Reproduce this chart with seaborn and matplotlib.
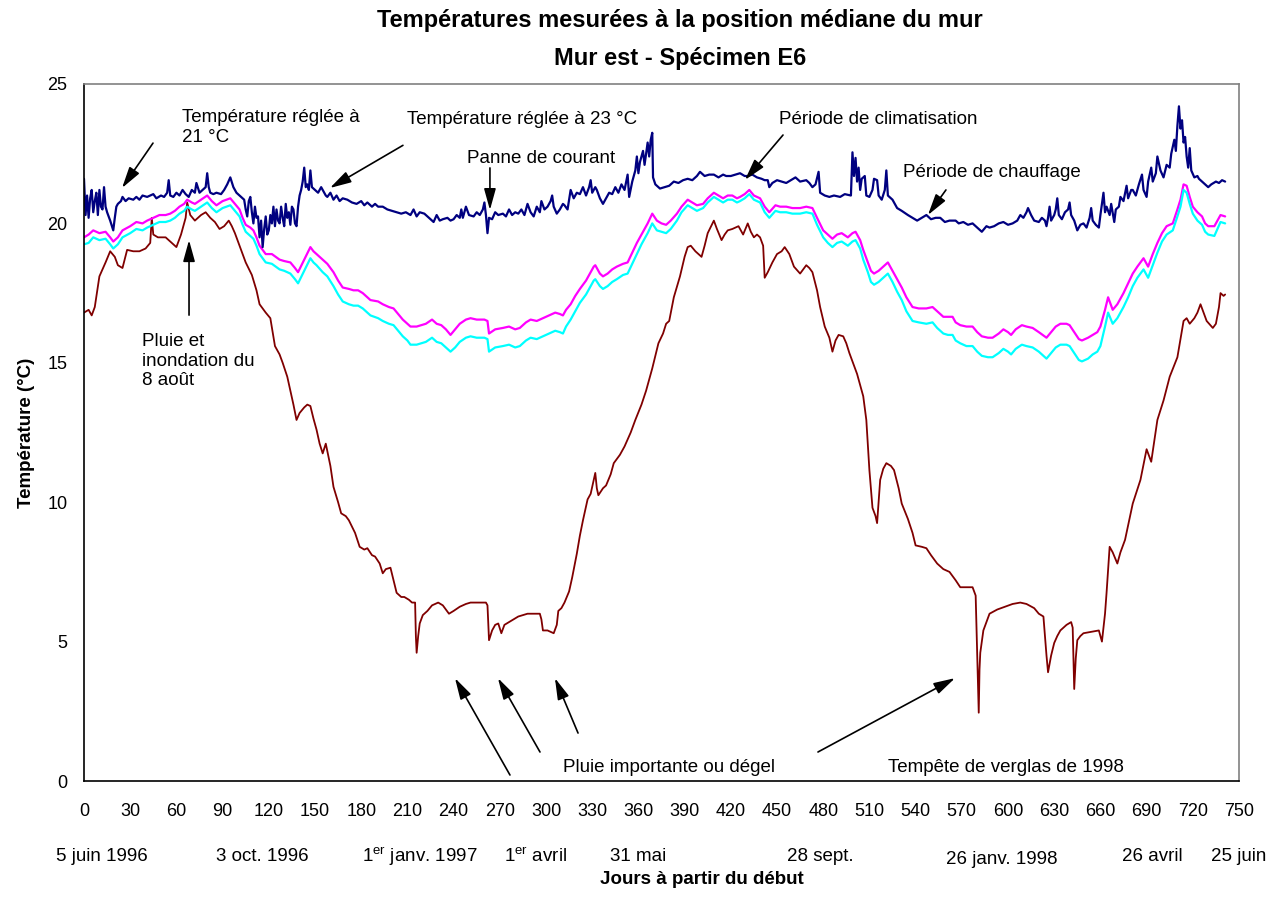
import matplotlib
matplotlib.use("Agg")
import matplotlib.pyplot as plt
import seaborn as sns

# ---------------------------------------------------------------------------
# data (jours, temperature en degC)
# interieur (bleu marine)
days_int = [0, 1, 2, 3, 4, 5, 6, 7, 8, 9, 10, 11, 12, 13, 14, 15, 17, 19, 20, 21,
            22, 24, 25, 27, 29, 32, 34, 36, 38, 41, 43, 45, 47, 50, 52, 54, 55, 56, 58, 60,
            62, 64, 66, 68, 70, 72, 73, 75, 77, 79, 80, 81, 82, 84, 86, 89, 91, 93, 95, 97,
            99, 101, 104, 105, 106, 107, 108, 109, 110, 111, 112, 113, 114, 115, 116, 117, 118, 119, 120, 121,
            122, 123, 124, 125, 126, 127, 128, 129, 130, 131, 132, 133, 134, 135, 136, 137, 138, 139, 140, 141,
            142, 143, 144, 145, 146, 147, 148, 150, 152, 154, 155, 157, 158, 160, 162, 164, 166, 168, 171, 174,
            177, 180, 182, 184, 187, 189, 191, 194, 197, 200, 203, 206, 209, 212, 214, 216, 218, 221, 224, 227,
            229, 231, 233, 236, 238, 240, 242, 244, 245, 246, 248, 250, 253, 255, 257, 259, 260, 261, 262, 263,
            265, 267, 269, 272, 274, 276, 278, 280, 282, 284, 286, 288, 290, 292, 294, 296, 297, 299, 301, 303,
            304, 305, 307, 309, 311, 312, 314, 316, 318, 320, 322, 324, 326, 328, 329, 330, 332, 333, 335, 337,
            339, 341, 343, 345, 347, 349, 351, 353, 354, 356, 358, 359, 360, 361, 363, 364, 366, 367, 368, 369,
            369.5, 371, 374, 377, 380, 383, 386, 389, 392, 395, 398, 400, 403, 406, 409, 412, 415, 417, 420, 423,
            426, 429, 431, 434, 437, 440, 442, 444, 445, 447, 450, 453, 456, 459, 462, 465, 469, 471, 473, 475,
            477, 478, 481, 484, 487, 491, 494, 498, 499, 500, 501, 502, 503, 504, 505, 507, 508, 510, 512, 513,
            515, 516, 518, 520, 521, 522, 525, 528, 531, 535, 538, 541, 544, 547, 550, 553, 556, 559, 562, 566,
            568, 571, 574, 577, 580, 583, 586, 588, 591, 594, 597, 600, 603, 606, 608, 610, 612, 613, 615, 617,
            620, 622, 624, 625, 626, 627, 628, 630, 631, 632, 633, 635, 637, 639, 640, 641, 643, 645, 647, 649,
            651, 653, 654, 655, 657, 659, 660, 662, 663, 664, 666, 667, 669, 670, 672, 673, 675, 677, 678, 680,
            681, 683, 685, 687, 688, 690, 691, 693, 694, 696, 697, 699, 701, 703, 705, 706, 708, 709, 710, 711,
            712, 713, 714, 715, 716, 717, 718, 719, 721, 723, 724, 727, 730, 732, 735, 737, 739, 741]
temp_int = [21.6, 20.3, 21.0, 20.2, 20.9, 21.2, 20.4, 20.8, 21.1, 20.3, 21.2, 20.6, 20.5, 21.3, 20.6, 20.4, 20.1, 19.75, 20.2, 20.6,
            20.7, 20.8, 20.95, 20.8, 20.9, 20.85, 20.95, 20.85, 21.0, 20.95, 21.0, 21.05, 20.9, 21.0, 20.95, 21.1, 21.55, 21.0, 20.95, 21.1,
            21.0, 21.2, 21.05, 20.95, 21.2, 21.1, 21.45, 21.1, 21.2, 21.3, 21.8, 21.3, 21.1, 21.05, 21.1, 21.05, 21.2, 21.4, 21.65, 21.3,
            21.1, 21.0, 20.85, 20.5, 20.25, 20.8, 20.95, 20.4, 20.0, 20.6, 20.2, 20.25, 19.5, 20.1, 19.15, 19.8, 20.25, 19.6, 19.75, 20.3,
            20.0, 20.6, 19.9, 20.5, 20.1, 20.0, 20.6, 20.2, 19.9, 20.7, 20.2, 20.4, 19.95, 20.6, 20.5, 20.0, 19.9, 20.6, 21.0, 21.2,
            21.5, 22.0, 21.3, 21.4, 21.2, 21.9, 21.3, 21.2, 21.1, 21.3, 21.2, 21.0, 20.95, 21.1, 20.85, 21.0, 20.8, 20.9, 20.85, 20.75,
            20.7, 20.8, 20.65, 20.75, 20.6, 20.7, 20.6, 20.6, 20.5, 20.45, 20.4, 20.35, 20.4, 20.3, 20.5, 20.25, 20.4, 20.35, 20.2, 20.05,
            20.3, 20.1, 20.15, 20.2, 20.1, 20.15, 20.3, 20.2, 20.5, 20.2, 20.6, 20.3, 20.25, 20.4, 20.3, 20.5, 20.75, 20.3, 19.65, 20.2,
            20.15, 20.4, 20.3, 20.35, 20.25, 20.5, 20.3, 20.4, 20.35, 20.5, 20.3, 20.7, 20.4, 20.25, 20.6, 20.4, 20.8, 20.5, 20.6, 20.8,
            21.0, 20.6, 20.35, 20.5, 20.7, 20.65, 20.5, 21.2, 20.9, 21.1, 21.05, 21.3, 21.0, 21.3, 21.55, 21.1, 21.3, 21.2, 20.9, 20.7,
            20.9, 21.1, 21.05, 21.3, 21.1, 21.4, 21.2, 21.75, 20.95, 21.5, 21.9, 22.4, 21.8, 22.2, 22.6, 22.1, 22.9, 22.4, 23.0, 23.25,
            21.65, 21.4, 21.25, 21.3, 21.35, 21.5, 21.45, 21.55, 21.6, 21.55, 21.7, 21.85, 21.7, 21.75, 21.75, 21.65, 21.75, 21.7, 21.7, 21.75,
            21.8, 21.7, 21.7, 21.75, 21.65, 21.6, 21.55, 21.55, 21.3, 21.45, 21.55, 21.5, 21.45, 21.55, 21.65, 21.5, 21.55, 21.45, 21.3, 21.4,
            21.85, 21.1, 21.0, 20.95, 21.0, 20.95, 21.05, 21.0, 22.55, 21.7, 22.35, 21.5, 22.0, 21.2, 21.6, 21.7, 21.0, 20.95, 21.2, 21.6,
            21.55, 21.0, 20.85, 21.2, 21.9, 21.0, 20.85, 20.55, 20.45, 20.3, 20.2, 20.1, 20.2, 20.3, 20.15, 20.2, 20.2, 20.05, 20.1, 20.1,
            20.0, 20.05, 19.95, 20.0, 19.85, 19.7, 19.9, 19.85, 19.9, 20.0, 20.05, 19.95, 20.0, 20.1, 20.3, 20.2, 20.4, 20.55, 20.3, 20.1,
            20.05, 20.2, 20.1, 19.9, 20.2, 20.6, 20.1, 20.3, 20.5, 20.9, 20.3, 20.15, 20.4, 20.5, 20.75, 20.3, 20.1, 19.75, 19.95, 20.0,
            19.85, 20.2, 20.55, 20.1, 19.95, 19.85, 20.3, 21.1, 20.4, 20.6, 20.3, 20.7, 20.05, 20.5, 20.6, 20.95, 20.8, 21.35, 20.9, 21.2,
            21.2, 21.0, 21.4, 21.75, 21.2, 20.95, 21.5, 22.0, 21.5, 21.8, 22.4, 21.9, 21.65, 22.1, 22.0, 22.5, 23.0, 22.6, 23.5, 24.2,
            23.4, 23.7, 22.9, 23.1, 22.4, 22.0, 22.7, 21.9, 21.65, 21.7, 21.6, 21.45, 21.3, 21.4, 21.5, 21.45, 21.55, 21.5]

# deux capteurs voisins (magenta / cyan), memes jours
days_mid = [0, 3, 6, 10, 14, 17, 19, 22, 25, 30, 34, 38, 41, 45, 49, 53, 56, 59, 62, 65,
            67, 70, 72, 76, 80, 83, 86, 90, 95, 98, 101, 103, 105, 108, 110, 112, 114, 118, 122, 127,
            130, 134, 137, 139, 143, 147, 149, 151, 155, 158, 162, 165, 168, 172, 175, 178, 181, 184, 186, 191,
            194, 198, 201, 204, 207, 210, 212, 216, 219, 222, 226, 229, 232, 235, 238, 241, 244, 248, 251, 255,
            260, 262, 263, 267, 272, 276, 280, 283, 287, 290, 294, 298, 302, 306, 309, 311, 313, 316, 319, 322,
            326, 329, 331, 332, 335, 337, 340, 343, 346, 350, 353, 356, 359, 362, 366, 369, 372, 375, 378, 381,
            385, 388, 392, 395, 398, 402, 405, 409, 412, 415, 418, 421, 424, 426, 429, 432, 435, 439, 442, 445,
            449, 452, 456, 460, 465, 469, 473, 476, 480, 483, 486, 489, 492, 496, 499, 501, 504, 506, 509, 511,
            513, 516, 519, 522, 525, 528, 531, 534, 538, 542, 547, 551, 554, 558, 561, 564, 566, 569, 573, 577,
            580, 583, 587, 590, 594, 597, 600, 602, 605, 609, 612, 616, 620, 625, 628, 631, 634, 638, 640, 643,
            646, 648, 652, 655, 658, 660, 663, 665, 668, 671, 675, 678, 681, 684, 688, 691, 694, 697, 700, 703,
            707, 710, 712, 714, 716, 718, 720, 723, 726, 728, 730, 734, 736, 738, 741]
temp_mag = [19.5, 19.6, 19.75, 19.65, 19.7, 19.5, 19.35, 19.5, 19.75, 19.9, 20.05, 20.0, 20.1, 20.2, 20.3, 20.3, 20.35, 20.45, 20.6, 20.7,
            20.85, 20.75, 20.7, 20.85, 21.0, 20.8, 20.65, 20.8, 20.9, 20.7, 20.5, 20.2, 19.95, 19.85, 19.75, 19.5, 19.2, 18.9, 18.9, 18.7,
            18.65, 18.6, 18.4, 18.25, 18.7, 19.15, 19.0, 18.9, 18.7, 18.55, 18.25, 17.95, 17.7, 17.65, 17.6, 17.6, 17.5, 17.35, 17.25, 17.2,
            17.1, 17.0, 16.95, 16.75, 16.55, 16.4, 16.3, 16.3, 16.35, 16.4, 16.55, 16.4, 16.35, 16.2, 16.0, 16.2, 16.4, 16.55, 16.6, 16.55,
            16.55, 16.5, 16.05, 16.2, 16.25, 16.3, 16.2, 16.25, 16.45, 16.55, 16.5, 16.6, 16.7, 16.8, 16.75, 16.7, 16.9, 17.1, 17.4, 17.65,
            17.95, 18.25, 18.45, 18.5, 18.2, 18.1, 18.2, 18.35, 18.45, 18.55, 18.6, 18.95, 19.3, 19.6, 20.0, 20.35, 20.1, 20.0, 19.95, 20.1,
            20.35, 20.6, 20.85, 20.75, 20.65, 20.7, 20.9, 21.1, 21.0, 20.9, 21.0, 21.0, 20.9, 20.95, 21.05, 21.2, 21.0, 20.9, 20.6, 20.4,
            20.65, 20.6, 20.6, 20.55, 20.55, 20.6, 20.55, 20.2, 19.75, 19.6, 19.45, 19.6, 19.65, 19.5, 19.65, 19.7, 19.4, 19.05, 18.6, 18.3,
            18.2, 18.3, 18.45, 18.6, 18.3, 18.0, 17.7, 17.35, 17.0, 16.95, 16.95, 17.0, 16.85, 16.65, 16.65, 16.65, 16.45, 16.35, 16.3, 16.3,
            16.1, 15.95, 15.9, 15.9, 16.05, 16.2, 16.1, 16.0, 16.2, 16.35, 16.3, 16.25, 16.1, 15.9, 16.1, 16.3, 16.4, 16.4, 16.35, 16.1,
            15.85, 15.8, 15.9, 16.0, 16.1, 16.3, 16.9, 17.35, 16.9, 17.1, 17.5, 17.85, 18.2, 18.45, 18.75, 18.45, 18.9, 19.3, 19.65, 19.9,
            20.0, 20.5, 20.85, 21.4, 21.35, 20.95, 20.6, 20.4, 20.25, 20.0, 19.9, 19.9, 20.1, 20.3, 20.25]
temp_cyan = [19.25, 19.3, 19.5, 19.4, 19.45, 19.25, 19.1, 19.25, 19.5, 19.65, 19.8, 19.75, 19.85, 19.95, 20.05, 20.05, 20.1, 20.2, 20.35, 20.45,
             20.6, 20.5, 20.45, 20.6, 20.75, 20.55, 20.4, 20.55, 20.65, 20.45, 20.25, 19.95, 19.7, 19.55, 19.45, 19.2, 18.9, 18.6, 18.55, 18.35,
             18.3, 18.2, 18.0, 17.85, 18.3, 18.75, 18.6, 18.5, 18.25, 18.1, 17.75, 17.45, 17.2, 17.1, 17.05, 17.05, 16.95, 16.8, 16.7, 16.6,
             16.5, 16.4, 16.35, 16.15, 15.95, 15.8, 15.65, 15.65, 15.7, 15.75, 15.9, 15.75, 15.7, 15.55, 15.4, 15.55, 15.75, 15.9, 15.95, 15.9,
             15.9, 15.85, 15.4, 15.55, 15.6, 15.65, 15.55, 15.6, 15.8, 15.9, 15.85, 15.95, 16.05, 16.15, 16.1, 16.05, 16.3, 16.55, 16.85, 17.15,
             17.45, 17.75, 17.95, 18.0, 17.75, 17.65, 17.75, 17.9, 18.0, 18.15, 18.2, 18.55, 18.9, 19.25, 19.65, 20.0, 19.75, 19.7, 19.65, 19.8,
             20.1, 20.4, 20.65, 20.55, 20.45, 20.55, 20.75, 20.95, 20.85, 20.75, 20.85, 20.85, 20.75, 20.8, 20.9, 21.05, 20.85, 20.75, 20.4, 20.2,
             20.45, 20.4, 20.4, 20.35, 20.35, 20.4, 20.35, 19.95, 19.5, 19.3, 19.15, 19.3, 19.35, 19.2, 19.35, 19.4, 19.1, 18.7, 18.25, 17.9,
             17.8, 17.9, 18.05, 18.2, 17.9, 17.55, 17.25, 16.85, 16.5, 16.45, 16.4, 16.45, 16.25, 16.05, 16.0, 16.0, 15.8, 15.7, 15.6, 15.6,
             15.4, 15.25, 15.2, 15.2, 15.35, 15.5, 15.4, 15.3, 15.5, 15.65, 15.6, 15.55, 15.4, 15.15, 15.35, 15.55, 15.65, 15.65, 15.6, 15.35,
             15.1, 15.05, 15.15, 15.3, 15.4, 15.6, 16.3, 16.8, 16.4, 16.6, 17.0, 17.35, 17.75, 18.05, 18.35, 18.05, 18.5, 18.95, 19.35, 19.6,
             19.75, 20.25, 20.6, 21.2, 21.1, 20.7, 20.35, 20.1, 19.95, 19.7, 19.6, 19.55, 19.8, 20.05, 20.0]

# position mediane du mur (bordeaux)
days_wall = [0, 3, 5, 7, 10, 14, 17, 20, 22, 25, 28, 32, 36, 40, 43, 44, 45, 48, 53, 57,
             60, 63, 66, 67, 69, 72, 76, 79, 82, 85, 88, 91, 94, 96, 98, 101, 105, 109, 112, 114,
             118, 121, 124, 127, 129, 132, 134, 136, 138, 140, 143, 145, 147, 149, 151, 153, 155, 157, 160, 162,
             165, 167, 170, 172, 176, 179, 182, 184, 187, 189, 192, 194, 196, 199, 201, 203, 206, 208, 211, 213,
             215, 215.5, 216, 217, 218, 220, 223, 226, 230, 233, 237, 240, 244, 248, 251, 254, 258, 261, 262, 263,
             265, 267, 269, 271, 273, 276, 279, 282, 285, 288, 292, 296, 297, 298, 301, 305, 307, 308, 310, 312,
             315, 317, 320, 322, 324, 327, 329, 332, 333, 334, 337, 339, 342, 344, 348, 351, 355, 358, 362, 365,
             369, 373, 376, 378, 380, 383, 387, 390, 392, 394, 397, 401, 403, 405, 409, 411, 414, 416, 418, 421,
             425, 428, 431, 433, 435, 437, 439, 441, 442, 444, 447, 450, 453, 455, 458, 461, 465, 469, 471, 473,
             476, 478, 481, 484, 486, 488, 490, 493, 495, 497, 502, 506, 508, 510, 512, 514, 515, 516, 517, 519,
             521, 524, 526, 529, 531, 535, 538, 540, 544, 547, 550, 554, 558, 562, 566, 569, 573, 577, 579, 580,
             581, 581.5, 582, 584, 586, 588, 593, 598, 603, 608, 612, 617, 620, 623, 625, 626, 628, 630, 632, 634,
             638, 641, 642, 643, 644, 645, 647, 649, 654, 659, 661, 663, 664, 666, 668, 671, 673, 676, 681, 686,
             690, 693, 695, 697, 701, 705, 710, 714, 716, 718, 721, 723, 725, 727, 729, 733, 735, 737, 738, 740,
             741]
temp_wall = [16.8, 16.9, 16.7, 17.0, 18.1, 18.6, 19.0, 18.8, 18.5, 18.4, 19.05, 19.0, 19.0, 19.1, 19.3, 20.2, 19.6, 19.5, 19.5, 19.3,
             19.15, 19.6, 20.2, 20.75, 20.3, 20.1, 20.3, 20.4, 20.2, 20.05, 19.8, 19.9, 20.1, 19.9, 19.65, 19.2, 18.6, 18.15, 17.6, 17.1,
             16.8, 16.6, 15.6, 15.3, 15.0, 14.5, 14.0, 13.5, 12.95, 13.2, 13.4, 13.5, 13.45, 13.0, 12.6, 12.1, 11.75, 12.1, 11.3, 10.55,
             10.0, 9.6, 9.5, 9.35, 8.9, 8.4, 8.3, 8.35, 8.1, 8.05, 7.8, 7.45, 7.6, 7.65, 7.2, 6.75, 6.6, 6.6, 6.5, 6.4,
             6.4, 5.2, 4.6, 5.2, 5.65, 5.95, 6.1, 6.3, 6.4, 6.3, 6.0, 6.1, 6.25, 6.35, 6.4, 6.4, 6.4, 6.4, 6.3, 5.05,
             5.4, 5.6, 5.65, 5.3, 5.6, 5.7, 5.8, 5.9, 5.95, 6.0, 6.0, 6.0, 5.8, 5.4, 5.4, 5.3, 5.6, 6.1, 6.2, 6.4,
             6.8, 7.3, 8.15, 8.8, 9.35, 10.1, 10.3, 11.05, 10.5, 10.25, 10.5, 10.6, 11.0, 11.4, 11.7, 12.0, 12.5, 12.95, 13.5, 14.0,
             14.8, 15.7, 16.05, 16.4, 16.5, 17.35, 18.1, 18.8, 19.15, 19.2, 19.0, 18.8, 19.2, 19.65, 20.1, 19.8, 19.4, 19.6, 19.75, 19.8,
             19.9, 19.6, 20.0, 19.7, 19.5, 19.6, 19.5, 19.2, 18.05, 18.25, 18.6, 18.9, 19.0, 19.15, 18.9, 18.45, 18.2, 18.5, 18.4, 18.25,
             17.6, 17.0, 16.3, 15.9, 15.4, 15.8, 16.0, 15.95, 15.7, 15.35, 14.6, 13.8, 12.95, 11.15, 9.8, 9.5, 9.25, 10.0, 10.8, 11.2,
             11.4, 11.3, 11.15, 10.5, 9.95, 9.4, 8.9, 8.45, 8.4, 8.35, 8.1, 7.8, 7.6, 7.5, 7.2, 6.95, 6.95, 6.95, 6.65, 4.5,
             2.45, 4.0, 4.6, 5.4, 5.7, 6.0, 6.15, 6.25, 6.35, 6.4, 6.35, 6.2, 6.0, 5.9, 4.5, 3.9, 4.5, 4.95, 5.2, 5.4,
             5.6, 5.7, 5.5, 3.3, 4.4, 5.05, 5.2, 5.3, 5.35, 5.4, 5.0, 6.0, 6.75, 8.4, 8.2, 7.8, 8.2, 8.65, 9.95, 10.8,
             11.9, 11.45, 12.2, 12.95, 13.65, 14.5, 15.2, 16.5, 16.6, 16.4, 16.6, 16.8, 17.1, 16.8, 16.5, 16.25, 16.4, 17.0, 17.5, 17.4,
             17.45]

x_ticks = list(range(0, 751, 30))
y_ticks = [0, 5, 10, 15, 20, 25]

date_pos = [11.7, 115.6, 218, 293.5, 360, 478, 596, 693.5, 750]
date_lab = ["5 juin 1996", "3 oct. 1996", "1$^{\\mathrm{er}}$ janv. 1997", "1$^{\\mathrm{er}}$ avril",
            "31 mai", "28 sept.", "26 janv. 1998", "26 avril", "25 juin"]

#------------------------------------------------------------------------------
sns.set_style("white")
plt.rcParams['font.family'] = ['Liberation Sans', 'DejaVu Sans']
plt.rcParams['mathtext.fontset'] = 'custom'
plt.rcParams['mathtext.rm'] = 'Liberation Sans'
plt.rcParams['mathtext.it'] = 'Liberation Sans:italic'
plt.rcParams['mathtext.bf'] = 'Liberation Sans:bold'
plt.rcParams['text.color'] = 'black'
plt.rcParams['axes.labelcolor'] = 'black'
plt.rcParams['xtick.color'] = 'black'
plt.rcParams['ytick.color'] = 'black'

fs_txt = 13.5   # annotations et dates

fig = plt.figure(figsize=(12.72, 8.98), dpi=100)
ax = fig.add_axes([84 / 1272, 1 - 781 / 898, 1155 / 1272, 697 / 898])

sns.lineplot(x=days_wall, y=temp_wall, ax=ax, color='#800000', lw=1.3, estimator=None, sort=False)
sns.lineplot(x=days_mid, y=temp_mag, ax=ax, color='#FF00FF', lw=1.6, estimator=None, sort=False)
sns.lineplot(x=days_mid, y=temp_cyan, ax=ax, color='#00FFFF', lw=1.6, estimator=None, sort=False)
sns.lineplot(x=days_int, y=temp_int, ax=ax, color='#000080', lw=1.6, estimator=None, sort=False)

ax.set_xlim(0, 750)
ax.set_ylim(0, 25)
ax.set_xticks(x_ticks)
ax.set_yticks(y_ticks)
ax.tick_params(axis='both', direction='inout', length=10, width=1, color='black',
               labelsize=13, labelcolor='black')
ax.tick_params(axis='x', pad=11)
ax.tick_params(axis='y', pad=7)
for s in ['left', 'bottom']:
    ax.spines[s].set_color('black')
    ax.spines[s].set_linewidth(1.2)
for s in ['top', 'right']:
    ax.spines[s].set_color('#808080')
    ax.spines[s].set_linewidth(1.2)

ax.set_xlabel('')
ax.set_ylabel('Température (°C)', fontsize=13.5, fontweight='bold', labelpad=9, color='black')

fig.text(680 / 1272, 1 - 21 / 898, 'Températures mesurées à la position médiane du mur',
         ha='center', va='center', fontsize=17, fontweight='bold')
fig.text(680 / 1272, 1 - 59 / 898, 'Mur est - Spécimen E6',
         ha='center', va='center', fontsize=17, fontweight='bold')
fig.text(702 / 1272, 1 - 880 / 898, 'Jours à partir du début',
         ha='center', va='center', fontsize=13.5, fontweight='bold')

# dates sous l'axe
trans = ax.get_xaxis_transform()
for p, lab in zip(date_pos, date_lab):
    yy = -0.113 if '1998' in lab and 'janv' in lab else -0.109
    ax.text(p, yy, lab, transform=trans, ha='center', va='center', fontsize=fs_txt, clip_on=False)

# annotations
arrow = dict(arrowstyle='-|>,head_length=1.3,head_width=0.36', color='black', lw=1.2,
             shrinkA=0, shrinkB=0, mutation_scale=10)

def fleche(x0, y0, x1, y1):
    ax.annotate('', xy=(x1, y1), xytext=(x0, y0), arrowprops=arrow)

ax.text(63.6, 24.1, 'Température réglée à\n21 °C', ha='left', va='top', fontsize=fs_txt, linespacing=1.2)
fleche(44.8, 22.88, 24.7, 21.27)

ax.text(209.7, 23.71, 'Température réglée à 23 °C', ha='left', va='center', fontsize=fs_txt)
fleche(207.1, 22.8, 159.7, 21.27)

ax.text(248.7, 22.31, 'Panne de courant', ha='left', va='center', fontsize=fs_txt)
fleche(263.6, 21.99, 263.6, 20.48)

ax.text(451.3, 23.74, 'Période de climatisation', ha='left', va='center', fontsize=fs_txt)
fleche(453.9, 23.17, 429.2, 21.56)

ax.text(531.8, 21.84, 'Période de chauffage', ha='left', va='center', fontsize=fs_txt)
fleche(559.7, 21.2, 548.0, 20.3)

ax.text(37.7, 16.08, 'Pluie et\ninondation du\n8 août', ha='left', va='top', fontsize=fs_txt, linespacing=1.22)
fleche(68.2, 16.71, 68.2, 19.4)

ax.text(311, 0.47, 'Pluie importante ou dégel', ha='left', va='center', fontsize=fs_txt)
fleche(276.6, 0.215, 240.9, 3.69)
fleche(296.1, 1.04, 268.8, 3.69)
fleche(320.8, 1.72, 305.8, 3.69)

ax.text(522, 0.47, 'Tempête de verglas de 1998', ha='left', va='center', fontsize=fs_txt)
fleche(476.6, 1.04, 565.6, 3.69)

fig.savefig('out.png', dpi=100)
